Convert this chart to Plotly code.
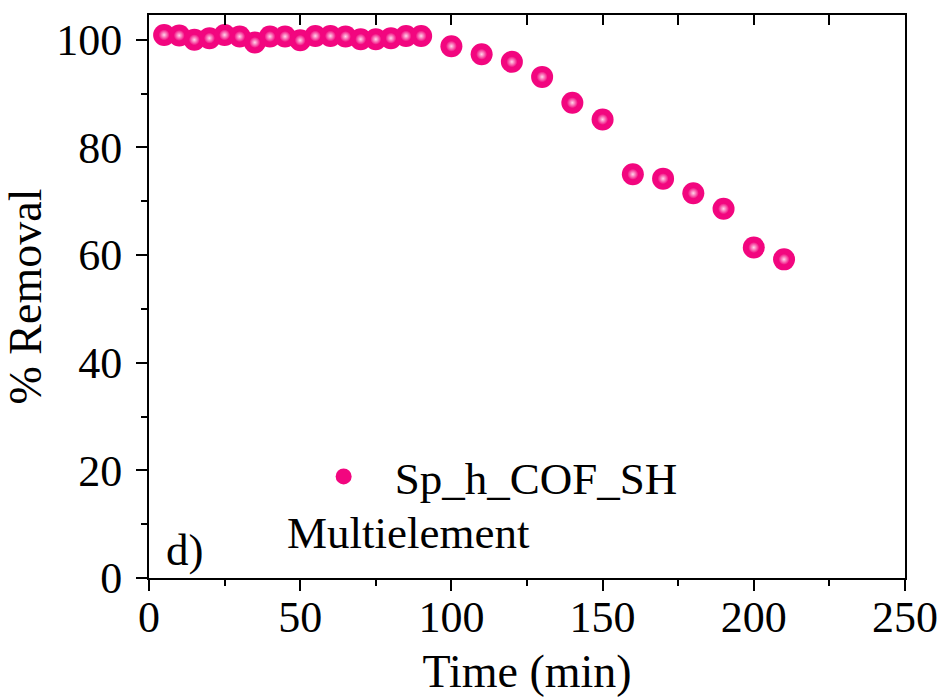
import plotly.graph_objects as go

# Data
time_min = [5, 10, 15, 20, 25, 30, 35, 40, 45, 50, 55, 60, 65, 70, 75, 80, 85, 90,
            100, 110, 120, 130, 140, 150, 160, 170, 180, 190, 200, 210]
removal_pct = [100.9, 100.8, 100.0, 100.3, 100.9, 100.6, 99.5, 100.6, 100.6, 99.9,
               100.7, 100.7, 100.6, 100.1, 100.1, 100.3, 100.7, 100.7,
               98.8, 97.3, 95.9, 93.1, 88.3, 85.2, 75.0, 74.2, 71.5, 68.6, 61.4, 59.2]

series_name = "Sp_h_COF_SH"
x_ticks = [0, 50, 100, 150, 200, 250]
y_ticks = [0, 20, 40, 60, 80, 100]

FONT = "Liberation Serif, Times New Roman, serif"
PINK = "#f2067f"

fig = go.Figure()
fig.add_trace(go.Scatter(
    x=time_min, y=removal_pct, mode="markers", name=series_name,
    marker=dict(size=22, color=PINK, line=dict(width=0)),
))
# highlight layer (glossy look)
fig.add_trace(go.Scatter(
    x=time_min, y=removal_pct, mode="markers", showlegend=False, hoverinfo="skip",
    marker=dict(size=11, color=PINK, line=dict(width=0),
                gradient=dict(type="radial", color="#ffd6ea")),
))
# invisible trace so the top (inside-tick) axis is drawn
fig.add_trace(go.Scatter(
    x=time_min, y=removal_pct, xaxis="x2", mode="markers", showlegend=False,
    hoverinfo="skip", marker=dict(size=1, color="rgba(0,0,0,0)"),
))

fig.update_layout(
    width=947, height=697,
    margin=dict(l=149, r=42, t=15, b=119),
    paper_bgcolor="white", plot_bgcolor="white",
    font=dict(family=FONT, size=44, color="black"),
    showlegend=True,
    legend=dict(x=0.19, y=0.18, xanchor="left", yanchor="middle",
                bgcolor="rgba(0,0,0,0)", font=dict(size=45, family=FONT),
                itemwidth=92, itemsizing="trace"),
    xaxis=dict(
        range=[0, 250], tickvals=x_ticks, ticktext=[str(v) for v in x_ticks],
        ticks="outside", ticklen=11, tickwidth=2, tickcolor="black",
        minor=dict(dtick=25, tick0=0, ticks="outside", ticklen=6, tickwidth=2, tickcolor="black"),
        showline=True, linewidth=2, linecolor="black", mirror=True,
        showgrid=False, zeroline=False, automargin=False,
        tickfont=dict(size=44, family=FONT),
        ticklabelstandoff=-12,
        title=dict(text="Time (min)", font=dict(size=46, family=FONT), standoff=14),
    ),
    yaxis=dict(
        range=[0, 104.6], tickvals=y_ticks, ticktext=[str(v) for v in y_ticks],
        ticks="outside", ticklen=11, tickwidth=2, tickcolor="black",
        minor=dict(dtick=10, tick0=0, ticks="outside", ticklen=6, tickwidth=2, tickcolor="black"),
        showline=True, linewidth=2, linecolor="black", mirror=True,
        showgrid=False, zeroline=False, automargin=False,
        tickfont=dict(size=44, family=FONT),
        ticklabelstandoff=5,
        title=dict(text="% Removal", font=dict(size=46, family=FONT), standoff=14),
    ),
    xaxis2=dict(
        range=[0, 250], overlaying="x", side="top", anchor="y",
        ticks="inside", ticklen=10, tickwidth=2, tickcolor="black",
        tick0=0, dtick=25, showticklabels=False, showline=False,
        showgrid=False, zeroline=False, automargin=False,
    ),
    annotations=[
        dict(text="Multielement", x=0.18, y=0.08, xref="paper", yref="paper",
             xanchor="left", yanchor="middle", showarrow=False,
             font=dict(size=45, family=FONT, color="black")),
        dict(text="d)", x=0.02, y=0.05, xref="paper", yref="paper",
             xanchor="left", yanchor="middle", showarrow=False,
             font=dict(size=45, family=FONT, color="black")),
    ],
)

fig.write_html("out.html")
